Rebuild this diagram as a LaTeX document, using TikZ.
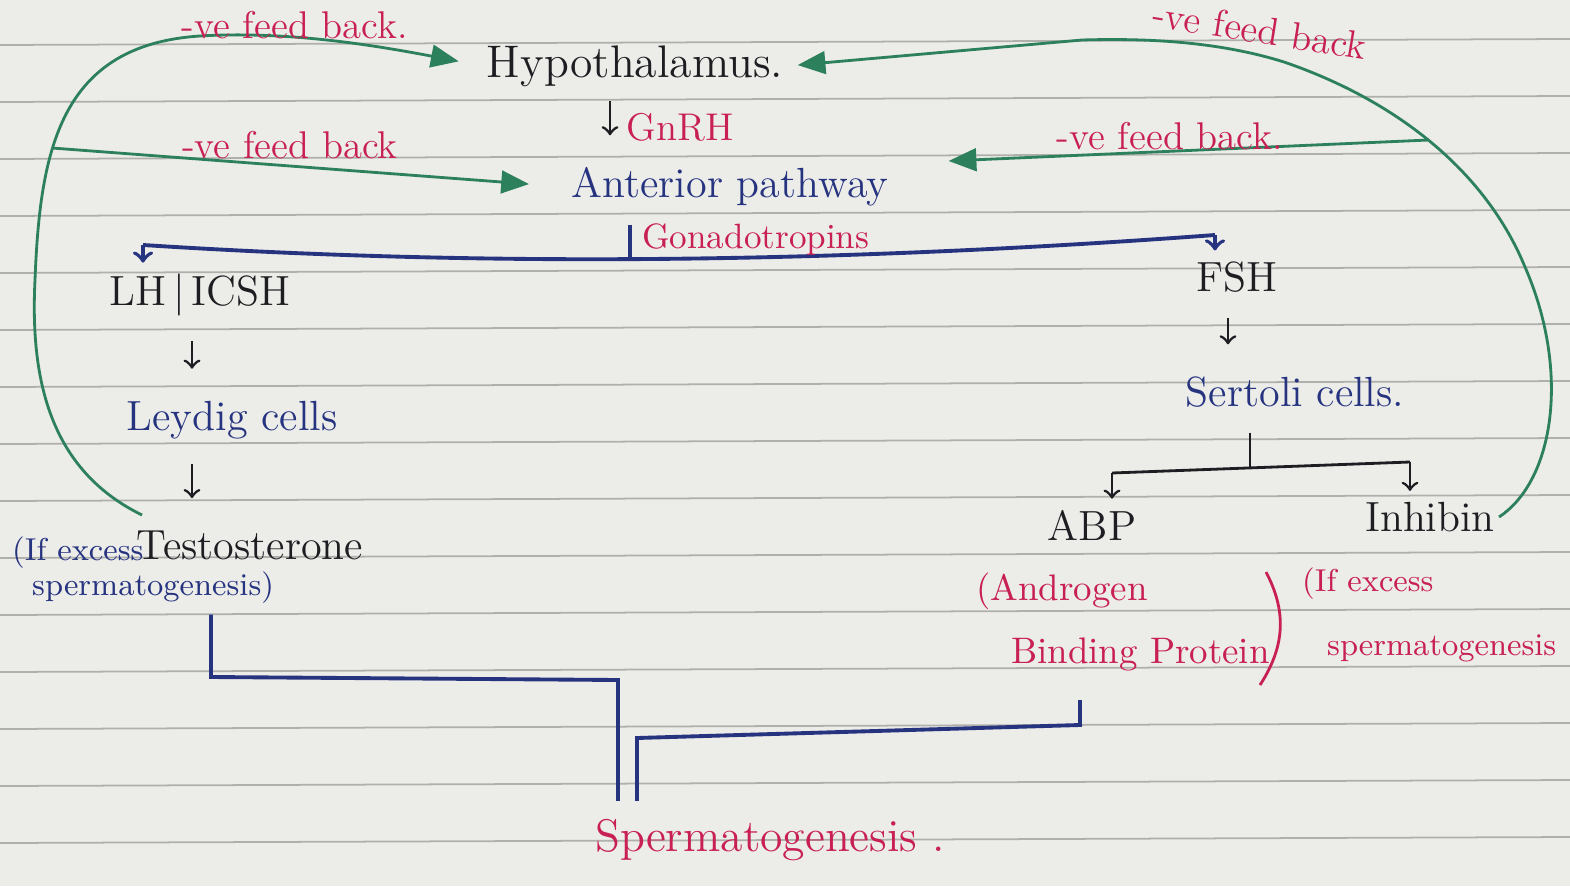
\documentclass[tikz,border=0pt]{standalone}
\usepackage{xcolor}
\usepackage{tikz}
\usetikzlibrary{positioning,arrows,calc}
\definecolor{paper}{RGB}{236,236,233}
\definecolor{rulegray}{RGB}{175,175,172}
\definecolor{inkred}{RGB}{200,32,82}
\definecolor{inkblue}{RGB}{38,52,128}
\definecolor{inkblack}{RGB}{30,30,34}
\definecolor{fbgreen}{RGB}{44,128,92}
\begin{document}
\begin{tikzpicture}
	[x=1cm,y=1cm,
	txt/.style={inner sep=1pt,text=inkblack,font=\fontsize{12}{14}\selectfont},
	lab/.style={inner sep=1pt,text=inkred,font=\fontsize{11}{18}\selectfont},
	ink/.style={draw=inkblue,line width=1.1pt},
	blk/.style={draw=inkblack,line width=0.8pt},
	fb/.style={draw=fbgreen,line width=0.8pt},
	rule/.style={draw=rulegray,line width=0.5pt}]
	\useasboundingbox (0,0) rectangle (15.7,-8.86);
	\fill[paper] (0,0) rectangle (15.7,-8.86);
	%RULED PAGE
	\foreach \y in {0.45,1.02,...,8.7}
	\draw[rule] (0,-\y) -- (15.7,-\y+0.06);
	%TOP
	\node[txt,font=\fontsize{13}{15}\selectfont] (hyp) at (6.35,-0.66) {Hypothalamus.};
	\node[txt,text=inkblue] (ant) at (7.3,-1.87) {Anterior pathway};
	\coordinate (cg) at (6.1,0);
	\draw[blk,->,shorten <=3pt,shorten >=8pt] (hyp.south -| cg) -- (ant.north -| cg);
	\node[lab] (gnrh) at (6.8,-1.27) {GnRH};
	%GONADOTROPINS
	\coordinate (gl) at (1.43,-2.45);
	\coordinate (gr) at (12.15,-2.35);
	\coordinate (cgo) at (6.3,-2.6);
	\draw[ink] (gl) .. controls (5,-2.68) and (8.5,-2.62) .. (gr);
	\draw[ink,shorten <=4pt] (ant.south -| cgo) -- (cgo);
	\node[lab,anchor=west,font=\fontsize{10}{12}\selectfont] (gona) at (6.38,-2.4) {Gonadotropins};
	\node[txt] (lh) at (2.0,-2.95) {LH\,$|$\,ICSH};
	\node[txt] (fsh) at (12.37,-2.77) {FSH};
	\draw[ink,->,shorten >=2pt] (gl) -- (gl |- lh.north);
	\draw[ink,->,shorten >=2pt] (gr) -- (gr |- fsh.north);
	%LEYDIG SIDE
	\node[txt,text=inkblue] (leydig) at (2.32,-4.2) {Leydig cells};
	\node[txt] (testo) at (2.5,-5.45) {Testosterone};
	\coordinate (cl) at (1.92,0);
	\draw[blk,->,shorten <=6pt,shorten >=8pt] (lh.south -| cl) -- (leydig.north -| cl);
	\draw[blk,->,shorten <=6pt,shorten >=8pt] (leydig.south -| cl) -- (testo.north -| cl);
	\node[txt,text=inkblue,align=left,anchor=west,font=\fontsize{9}{10}\selectfont] (ifl) at (0.08,-5.7) {(If excess\\\hspace*{2mm}spermatogenesis)};
	%SERTOLI SIDE
	\node[txt,text=inkblue] (sert) at (12.95,-3.92) {Sertoli cells.};
	\coordinate (cf) at (12.28,0);
	\draw[blk,->,shorten <=6pt,shorten >=8pt] (fsh.south -| cf) -- (sert.north -| cf);
	\node[txt] (abp) at (10.92,-5.25) {ABP};
	\node[txt] (inhibin) at (14.3,-5.17) {Inhibin};
	\coordinate (sb) at (12.5,-4.67);
	\coordinate (sl) at (11.12,-4.73);
	\coordinate (sr) at (14.1,-4.62);
	\draw[blk,shorten <=6pt] (sert.south -| sb) -- (sb);
	\draw[blk] (sl) -- (sr);
	\draw[blk,->,shorten >=2pt] (sl) -- (sl |- abp.north);
	\draw[blk,->,shorten >=2pt] (sr) -- (sr |- inhibin.north);
	\node[lab,align=left,anchor=west,font=\fontsize{10.5}{18}\selectfont] (andro) at (9.72,-6.22) {(Androgen\\\hspace*{3.5mm}Binding Protein};
	\draw[draw=inkred,line width=0.8pt] (12.66,-5.72) .. controls (12.86,-6.1) and (12.86,-6.45) .. (12.6,-6.85);
	\node[lab,align=left,anchor=west,font=\fontsize{9}{18}\selectfont] (ifr) at (12.98,-6.15) {(If excess\\\hspace*{2.5mm}spermatogenesis};
	%FEEDBACK LEFT
	\coordinate (lfb) at (0.52,-1.48);
	\draw[fb,-triangle 45,shorten >=7pt] (1.42,-5.15) .. controls (0.5,-4.7) and (0.3,-3.8) .. (0.35,-2.8)
		.. controls (0.4,-1.5) and (0.6,-0.45) .. (2.0,-0.36)
		.. controls (3.0,-0.3) and (4.0,-0.5) .. (hyp.west);
	\draw[fb,-triangle 45,shorten >=11pt] (lfb) -- (ant.west);
	\node[lab] (fbl1) at (2.95,-0.25) {-ve feed back.};
	\node[lab] (fbl2) at (2.9,-1.45) {-ve feed back};
	%FEEDBACK RIGHT
	\coordinate (rfb) at (14.29,-1.4);
	\draw[fb,-triangle 45,shorten >=3pt] (inhibin.east) .. controls (15.55,-4.8) and (15.7,-3.7) .. (15.25,-2.67)
		.. controls (14.85,-1.7) and (13.95,-1.0) .. (12.84,-0.62)
		.. controls (12.2,-0.42) and (11.5,-0.38) .. (10.82,-0.4) -- (hyp.east);
	\draw[fb,-triangle 45,shorten >=16pt] (rfb) -- (ant.north east);
	\node[lab,rotate=-9] (fbr1) at (12.6,-0.3) {-ve feed back};
	\node[lab] (fbr2) at (11.7,-1.36) {-ve feed back.};
	%SPERMATOGENESIS
	\node[lab,font=\fontsize{13}{15}\selectfont] (sperm) at (7.7,-8.4) {Spermatogenesis .};
	\coordinate (tl) at (2.11,-6.77);
	\coordinate (jl) at (6.18,-6.8);
	\coordinate (tr) at (10.8,-7.25);
	\coordinate (jr) at (6.37,-7.38);
	\draw[ink,shorten <=2pt,shorten >=4pt] (ifl.south -| tl) -- (tl) -- (jl) -- (sperm.north -| jl);
	\draw[ink,shorten <=7pt,shorten >=4pt] (andro.south -| tr) -- (tr) -- (jr) -- (sperm.north -| jr);
\end{tikzpicture}
\end{document}
